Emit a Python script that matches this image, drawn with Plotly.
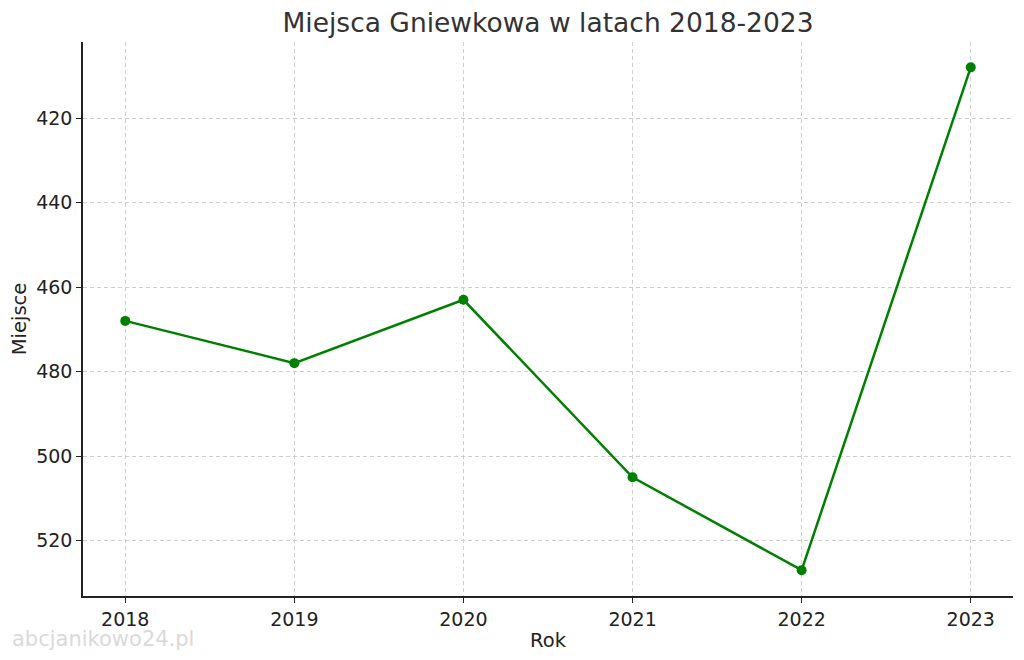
import plotly.graph_objects as go

# data
years = [2018, 2019, 2020, 2021, 2022, 2023]
places = [468, 478, 463, 505, 527, 408]
y_ticks = [420, 440, 460, 480, 500, 520]

fig = go.Figure()

fig.add_trace(go.Scatter(
    x=years, y=places,
    mode="lines+markers",
    line=dict(color="#008000", width=2.5),
    marker=dict(color="#008000", size=10),
    showlegend=False,
))

# page has an 8px body margin, so the figure is sized to fit the window
fig.update_layout(
    width=1008, height=644,
    margin=dict(l=75, r=3, t=34, b=56),
    plot_bgcolor="white",
    paper_bgcolor="white",
    font=dict(family="DejaVu Sans", size=19, color="#222222"),
    title=dict(
        text="Miejsca Gniewkowa w latach 2018-2023",
        font=dict(size=26.5, color="#333333"),
        x=0.5, xref="paper", xanchor="center",
        y=0.977, yanchor="middle",
    ),
)

axis_common = dict(
    showline=True, linecolor="#222222", linewidth=1.5,
    ticks="outside", ticklen=5, tickwidth=1.3, tickcolor="#222222",
    showgrid=True, gridcolor="#cfcfcf", griddash="4px,3px", gridwidth=1,
    zeroline=False, mirror=False, automargin=False,
    tickfont=dict(size=19, color="#222222"),
)

fig.update_xaxes(
    **axis_common,
    range=[2017.75, 2023.25],
    tickvals=years,
    title=dict(text="Rok", font=dict(size=19.5), standoff=8),
)
fig.update_yaxes(
    **axis_common,
    range=[533.1, 402],
    tickvals=y_ticks,
    title=dict(text="Miejsce", font=dict(size=19.5), standoff=8),
)

# watermark
fig.add_annotation(
    text="abcjanikowo24.pl",
    xref="paper", yref="paper",
    x=-0.078, y=-0.077, xanchor="left", yanchor="middle",
    showarrow=False,
    font=dict(size=21, color="#dadada", family="DejaVu Sans"),
)

fig.write_html("out.html")
